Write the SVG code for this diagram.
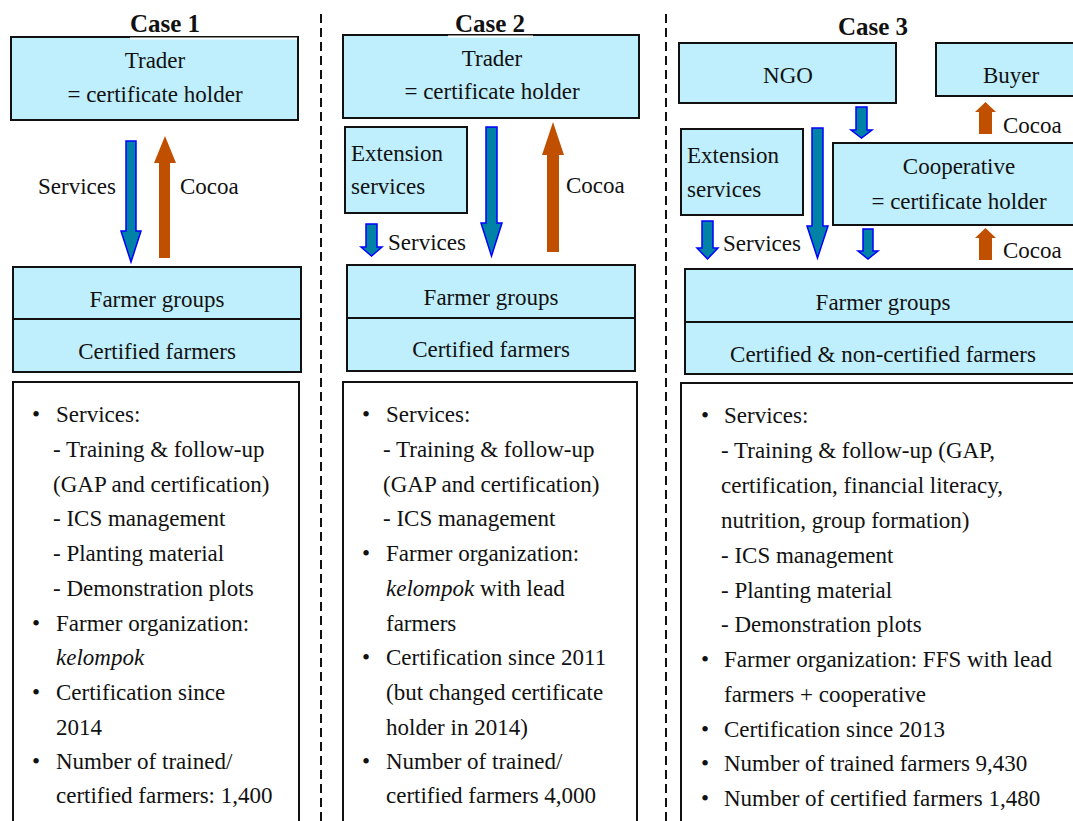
<svg xmlns="http://www.w3.org/2000/svg" width="1073" height="821" viewBox="0 0 1073 821" font-family="'Liberation Serif', serif">
<style>
text{font-size:23px;fill:#111;}
.t{font-weight:bold;font-size:25px;text-anchor:middle;}
.c{text-anchor:middle;}
.box{fill:#BFEFFD;stroke:#111;stroke-width:2;}
.wbox{fill:#fff;stroke:#111;stroke-width:2;}
.div{stroke:#111;stroke-width:2;}
.blue{fill:#0082A6;stroke:#0000FF;stroke-width:1.5;}
.orange{fill:#C05000;}
.dash{stroke:#111;stroke-width:2;stroke-dasharray:9 5;}
</style>
<rect width="1073" height="821" fill="#fff"/>
<g id="separators">
<line class="dash" x1="321" y1="14" x2="321" y2="821"/>
<line class="dash" x1="666" y1="14" x2="666" y2="821"/>
</g>
<!-- Case 1 -->
<g id="case1-title"><text class="t" x="165" y="32">Case 1</text></g>
<g id="case1-trader">
<rect class="box" x="11" y="37" width="287" height="83"/>
<line x1="130" y1="38.5" x2="297" y2="38.5" stroke="#fff" stroke-width="2"/>
<text class="c" x="155" y="68">Trader</text>
<text class="c" x="155" y="102">= certificate holder</text>
</g>
<g id="case1-farmers">
<rect class="box" x="13" y="267" width="288" height="105"/>
<line class="div" x1="13" y1="319" x2="301" y2="319"/>
<text class="c" x="157" y="307">Farmer groups</text>
<text class="c" x="157" y="359">Certified farmers</text>
</g>
<g id="case1-info">
<rect class="wbox" x="13" y="382" width="286" height="460"/>
<text x="32" y="422">•</text><text x="56" y="422">Services:</text>
<text x="53" y="457">- Training &amp; follow-up</text>
<text x="53" y="492">(GAP and certification)</text>
<text x="53" y="526">- ICS management</text>
<text x="53" y="561">- Planting material</text>
<text x="53" y="596">- Demonstration plots</text>
<text x="32" y="631">•</text><text x="56" y="631">Farmer organization:</text>
<text x="56" y="665" font-style="italic">kelompok</text>
<text x="32" y="700">•</text><text x="56" y="700">Certification since</text>
<text x="56" y="735">2014</text>
<text x="32" y="769">•</text><text x="56" y="769">Number of trained/</text>
<text x="56" y="803">certified farmers: 1,400</text>
</g>
<!-- Case 2 -->
<g id="case2-title"><text class="t" x="490" y="32">Case 2</text></g>
<g id="case2-trader">
<rect class="box" x="343" y="35" width="296" height="83"/>
<line x1="448" y1="36.5" x2="533" y2="36.5" stroke="#fff" stroke-width="2"/>
<text class="c" x="492" y="66">Trader</text>
<text class="c" x="492" y="99">= certificate holder</text>
</g>
<g id="case2-extension">
<rect class="box" x="345" y="127" width="122" height="86"/>
<text x="351" y="161">Extension</text>
<text x="351" y="194">services</text>
</g>
<g id="case2-farmers">
<rect class="box" x="347" y="265" width="288" height="106"/>
<line class="div" x1="347" y1="318" x2="635" y2="318"/>
<text class="c" x="491" y="305">Farmer groups</text>
<text class="c" x="491" y="357">Certified farmers</text>
</g>
<g id="case2-info">
<rect class="wbox" x="343" y="382" width="294" height="460"/>
<text x="362" y="422">•</text><text x="386" y="422">Services:</text>
<text x="383" y="457">- Training &amp; follow-up</text>
<text x="383" y="492">(GAP and certification)</text>
<text x="383" y="526">- ICS management</text>
<text x="362" y="561">•</text><text x="386" y="561">Farmer organization:</text>
<text x="386" y="596"><tspan font-style="italic">kelompok</tspan> with lead</text>
<text x="386" y="631">farmers</text>
<text x="362" y="665">•</text><text x="386" y="665">Certification since 2011</text>
<text x="386" y="700">(but changed certificate</text>
<text x="386" y="735">holder in 2014)</text>
<text x="362" y="769">•</text><text x="386" y="769">Number of trained/</text>
<text x="386" y="803">certified farmers 4,000</text>
</g>
<!-- Case 3 -->
<g id="case3-title"><text class="t" x="873" y="35">Case 3</text></g>
<g id="case3-ngo">
<rect class="box" x="679" y="43" width="217" height="60"/>
<text class="c" x="788" y="83">NGO</text>
</g>
<g id="case3-buyer">
<rect class="box" x="936" y="43" width="150" height="53"/>
<text class="c" x="1011" y="83">Buyer</text>
</g>
<g id="case3-extension">
<rect class="box" x="681" y="129" width="122" height="86"/>
<text x="687" y="163">Extension</text>
<text x="687" y="197">services</text>
</g>
<g id="case3-cooperative">
<rect class="box" x="833" y="143" width="250" height="82"/>
<text class="c" x="959" y="174">Cooperative</text>
<text class="c" x="959" y="209">= certificate holder</text>
</g>
<g id="case3-farmers">
<rect class="box" x="685" y="269" width="400" height="105"/>
<line class="div" x1="685" y1="322" x2="1085" y2="322"/>
<text class="c" x="883" y="310">Farmer groups</text>
<text class="c" x="883" y="362">Certified &amp; non-certified farmers</text>
</g>
<g id="case3-info">
<rect class="wbox" x="681" y="383" width="410" height="460"/>
<text x="701" y="423">•</text><text x="724" y="423">Services:</text>
<text x="721" y="458">- Training &amp; follow-up (GAP,</text>
<text x="721" y="493">certification, financial literacy,</text>
<text x="721" y="528">nutrition, group formation)</text>
<text x="721" y="563">- ICS management</text>
<text x="721" y="598">- Planting material</text>
<text x="721" y="632">- Demonstration plots</text>
<text x="701" y="667">•</text><text x="724" y="667">Farmer organization: FFS with lead</text>
<text x="724" y="702">farmers + cooperative</text>
<text x="701" y="737">•</text><text x="724" y="737">Certification since 2013</text>
<text x="701" y="771">•</text><text x="724" y="771">Number of trained farmers 9,430</text>
<text x="701" y="806">•</text><text x="724" y="806">Number of certified farmers 1,480</text>
</g>
<!-- Connectors -->
<g id="connectors">
<polygon class="blue" points="126,141 136,141 136,231 141,231 131,262 121,231 126,231"/>
<polygon class="orange" points="159,258 170,258 170,163 176,163 165,136 154,163 159,163"/>
<text x="38" y="194">Services</text>
<text x="180" y="194">Cocoa</text>

<polygon class="blue" points="486,127 497,127 497,223 502,223 491.5,256 481,223 486,223"/>
<polygon class="orange" points="547,252 559,252 559,155 564,155 553,122 542,155 547,155"/>
<polygon class="blue" points="366,224 377,224 377,247 382,247 371.5,256 361,247 366,247"/>
<text x="388" y="250">Services</text>
<text x="566" y="193">Cocoa</text>

<polygon class="blue" points="856,107 867,107 867,130 872,130 861.5,138 851,130 856,130"/>
<polygon class="blue" points="812,128 823,128 823,226 828,226 817.5,258 807,226 812,226"/>
<polygon class="blue" points="702,221 713,221 713,248 718,248 707.5,259 697,248 702,248"/>
<polygon class="blue" points="863,229 873,229 873,251 878,251 868,259 858,251 863,251"/>
<polygon class="orange" points="979,134 992,134 992,112 996,112 985.5,102 975,112 979,112"/>
<polygon class="orange" points="979,260 992,260 992,238 996,238 985.5,228 975,238 979,238"/>
<text x="723" y="251">Services</text>
<text x="1003" y="133">Cocoa</text>
<text x="1003" y="258">Cocoa</text>
</g>
</svg>
